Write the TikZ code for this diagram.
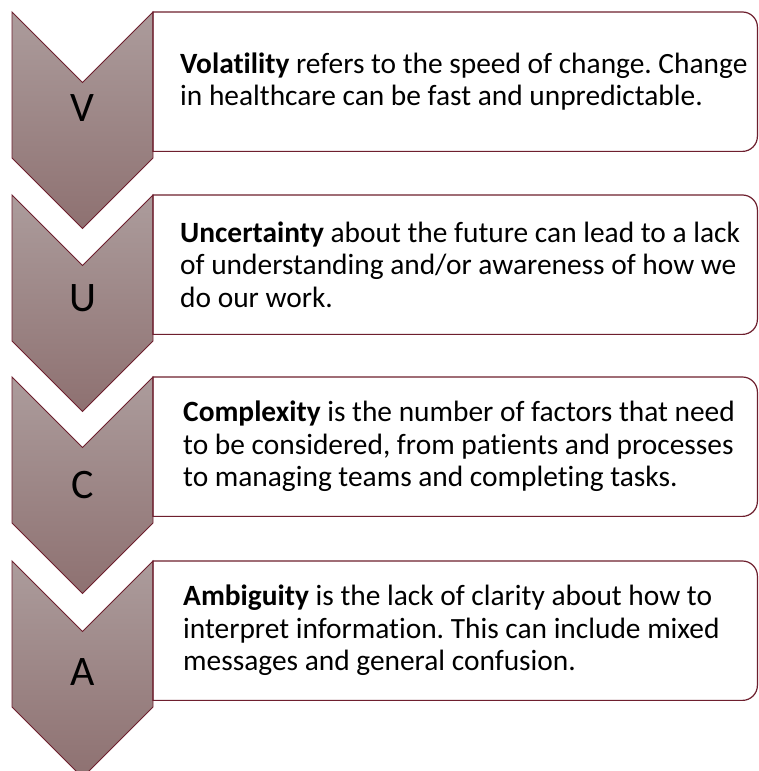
\documentclass[tikz,border=0pt]{standalone}
\usepackage{fontspec}
\setmainfont[Ligatures=NoCommon]{Carlito}
\usetikzlibrary{positioning}
\usetikzlibrary{calc}
\definecolor{wine}{HTML}{6E1F2E}
\definecolor{mauvetop}{HTML}{AC9C9C}
\definecolor{mauvebot}{HTML}{8E7171}
\tikzstyle{chevron} = [draw=wine, line width=0.9pt,
                       top color=mauvetop, bottom color=mauvebot]
\tikzstyle{letter} = [font=\fontsize{42}{50}\selectfont, text=black]
\tikzstyle{panel}  = [rectangle, minimum width=604pt, minimum height=139pt,
                      inner sep=0pt, anchor=north west]
\tikzstyle{outline} = [draw=wine, line width=1.2pt]
\tikzstyle{blurb} = [align=left, anchor=west, inner sep=0pt,
                     font=\fontsize{29.4}{32.5}\selectfont]
\newcommand{\panelframe}[1]{%
  \draw[outline] (#1.north west) -- ($(#1.north east)+(-15,0)$)
    arc[start angle=90, end angle=0, radius=15]
    -- ($(#1.south east)+(0,15)$)
    arc[start angle=0, end angle=-90, radius=15]
    -- (#1.south west) -- cycle;}
\frenchspacing

\begin{document}
\begin{tikzpicture}[x=1pt, y=1pt]

% background
\useasboundingbox (0,0) rectangle (759,771);
\fill[white] (0,0) rectangle (759,771);

% chevrons
\shade[chevron] (12,759) -- ++(70.5,-70.5) -- ++(70.5,70.5) -- ++(0,-146)
  -- ++(-70.5,-70.5) -- ++(-70.5,70.5) -- cycle;
\shade[chevron] (12,576) -- ++(70.5,-70.5) -- ++(70.5,70.5) -- ++(0,-146)
  -- ++(-70.5,-70.5) -- ++(-70.5,70.5) -- cycle;
\shade[chevron] (12,394) -- ++(70.5,-70.5) -- ++(70.5,70.5) -- ++(0,-146)
  -- ++(-70.5,-70.5) -- ++(-70.5,70.5) -- cycle;
\shade[chevron] (12,210) -- ++(70.5,-70.5) -- ++(70.5,70.5) -- ++(0,-146)
  -- ++(-70.5,-70.5) -- ++(-70.5,70.5) -- cycle;

% letters
\node[letter] (v) at (82.5,663) {V};
\node[letter] (u) at (82.5,473) {U};
\node[letter] (c) at (82.5,286) {C};
\node[letter] (a) at (82.5,99) {A};

% panels
\node[panel] (vbox) at (153,759) {};
\node[panel] (ubox) at (153,576) {};
\node[panel] (cbox) at (153,394) {};
\node[panel] (abox) at (153,210) {};
\panelframe{vbox}
\panelframe{ubox}
\panelframe{cbox}
\panelframe{abox}

% texts
\node[blurb] (vtxt) at ([xshift=27pt]vbox.west)
  {\textbf{Volatility} refers to the speed of change. Change\\
   in healthcare can be fast and unpredictable.};
\node[blurb] (utxt) at ([xshift=27pt]ubox.west)
  {\textbf{Uncertainty} about the future can lead to a lack\\
   of understanding and/or awareness of how we\\
   do our work.};
\node[blurb] (ctxt) at ([xshift=30pt]cbox.west)
  {\textbf{Complexity} is the number of factors that need\\
   to be considered, from patients and processes\\
   to managing teams and completing tasks.};
\node[blurb] (atxt) at ([xshift=30pt]abox.west)
  {\textbf{Ambiguity} is the lack of clarity about how to\\
   interpret information. This can include mixed\\
   messages and general confusion.};

\end{tikzpicture}
\end{document}
